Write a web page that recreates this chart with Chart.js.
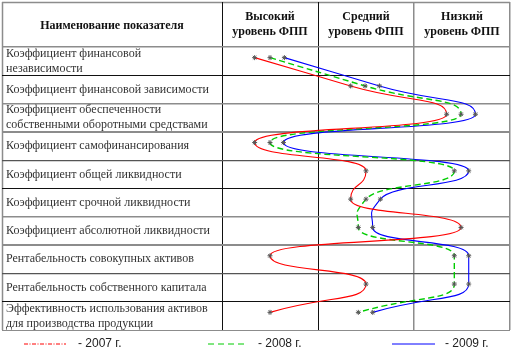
<!DOCTYPE html>
<html>
<head>
<meta charset="utf-8">
<script src="https://cdn.jsdelivr.net/npm/chart.js@4.4.1/dist/chart.umd.min.js"></script>
<style>
html,body{margin:0;padding:0;background:#fff;}
canvas{display:block;}
</style>
</head>
<body>
<canvas id="c" width="515" height="355"></canvas>
<script>
// Rows (indicators)
const rowLabels = [
  ['Коэффициент финансовой', 'независимости'],
  'Коэффициент финансовой зависимости',
  ['Коэффициент обеспеченности', 'собственными оборотными средствами'],
  'Коэффициент самофинансирования',
  'Коэффициент общей ликвидности',
  'Коэффициент срочной ликвидности',
  'Коэффициент абсолютной ликвидности',
  'Рентабельность совокупных активов',
  'Рентабельность собственного капитала',
  ['Эффективность использования активов', 'для производства продукции']
];
// Column headers (levels), each spans one unit on the x scale
const levelLabels = [
  ['Высокий', 'уровень ФПП'],
  ['Средний', 'уровень ФПП'],
  ['Низкий', 'уровень ФПП']
];
const cornerLabel = 'Наименование показателя';
// Position within the level columns (0..3)
const series2007 = [0.34, 1.34, 2.34, 0.34, 1.50, 1.34, 2.49, 0.50, 1.50, 0.50];
const series2008 = [0.50, 1.49, 2.49, 0.50, 2.42, 1.50, 1.42, 2.42, 2.42, 1.42];
const series2009 = [0.65, 1.64, 2.64, 0.64, 2.57, 1.65, 1.57, 2.57, 2.57, 1.57];
const legendLabels = ['- 2007 г.', '- 2008 г.', '- 2009 г.'];
const colTicks = [0, 0.5, 1, 1.5, 2, 2.5, 3];

const GREY = '#8c8c8c';
const hLineColors = [GREY, '#111', GREY, GREY, '#555', '#111', GREY, GREY, '#555', '#111', GREY];
const hLineWidths = [1.5, 1, 1.5, 2, 1.2, 1, 1.5, 2, 1.2, 1, 1.5];
const vLineColors = ['#111', '#111', GREY, GREY];
const vLineWidths = [1, 1, 1.5, 1.5];

// Monotone interpolation along the vertical (row) axis, with slightly longer handles
const HANDLE_SCALE = 1.8;
const DATA_SHIFT_Y = -3.5;

const curvePlugin = {
  id: 'curveShape',
  beforeDatasetsDraw(chart) {
    chart.ctx.save();
    chart.ctx.translate(0, DATA_SHIFT_Y);
  },
  afterDatasetsDraw(chart) {
    chart.ctx.restore();
  },
  beforeDatasetDraw(chart, args) {
    const line = args.meta.dataset;
    if (!line) return;
    line._pointsUpdated = false;
    line.updateControlPoints(chart.chartArea, 'y');
    line._path = undefined;
    line.points.forEach(p => {
      if (p.cp1x !== undefined) {
        p.cp1x = p.x + (p.cp1x - p.x) * HANDLE_SCALE;
        p.cp1y = p.y + (p.cp1y - p.y) * HANDLE_SCALE;
      }
      if (p.cp2x !== undefined) {
        p.cp2x = p.x + (p.cp2x - p.x) * HANDLE_SCALE;
        p.cp2y = p.y + (p.cp2y - p.y) * HANDLE_SCALE;
      }
    });
  }
};

const framePlugin = {
  id: 'frame',
  beforeDraw(chart) {
    const ctx = chart.ctx;
    const x = chart.scales.x, y = chart.scales.y;
    ctx.save();
    ctx.strokeStyle = GREY;
    ctx.lineWidth = 1.5;
    ctx.beginPath();
    ctx.moveTo(2, 2.5); ctx.lineTo(x.right, 2.5);
    ctx.moveTo(2.5, 2); ctx.lineTo(2.5, y.bottom);
    ctx.stroke();
    ctx.restore();
  },
  afterDraw(chart) {
    const ctx = chart.ctx;
    const x = chart.scales.x, y = chart.scales.y;
    ctx.save();
    ctx.fillStyle = '#111';
    ctx.font = 'bold 12px "Liberation Serif"';
    ctx.textAlign = 'center';
    ctx.textBaseline = 'middle';
    ctx.fillText(cornerLabel, (2 + x.left) / 2, (2 + y.top) / 2 + 1);
    // legend
    const ds = chart.data.datasets;
    const items = [
      {x0: 24, x1: 66, tx: 78, dash: [4, 1.5, 1, 1.5]},
      {x0: 208, x1: 248, tx: 258, dash: [6, 4]},
      {x0: 392, x1: 435, tx: 445, dash: []}
    ];
    const ly = y.bottom + 14;
    ctx.font = '12px "Liberation Sans"';
    ctx.textAlign = 'left';
    items.forEach((it, i) => {
      ctx.strokeStyle = ds[i].borderColor;
      ctx.lineWidth = 1;
      ctx.setLineDash(it.dash);
      ctx.beginPath();
      ctx.moveTo(it.x0, ly); ctx.lineTo(it.x1, ly);
      ctx.stroke();
      ctx.setLineDash([]);
      ctx.fillStyle = '#222';
      ctx.fillText(legendLabels[i], it.tx, ly);
    });
    ctx.restore();
  }
};

const pointOpts = {
  pointStyle: 'star',
  pointRadius: 2.5,
  pointBorderColor: '#555',
  pointBackgroundColor: '#555',
  pointBorderWidth: 1
};

new Chart(document.getElementById('c'), {
  type: 'line',
  data: {
    labels: rowLabels,
    datasets: [
      Object.assign({label: '2007', data: series2007, borderColor: '#ff0000', borderWidth: 1.1}, pointOpts),
      Object.assign({label: '2008', data: series2008, borderColor: '#00cc00', borderWidth: 1.4, borderDash: [6, 3.5]}, pointOpts),
      Object.assign({label: '2009', data: series2009, borderColor: '#0000ff', borderWidth: 1.1}, pointOpts)
    ]
  },
  options: {
    indexAxis: 'y',
    responsive: false,
    animation: false,
    layout: {padding: {left: 6, top: 2, right: 3, bottom: 25}},
    elements: {line: {cubicInterpolationMode: 'monotone', fill: false, capBezierPoints: false}},
    plugins: {legend: {display: false}, tooltip: {enabled: false}},
    scales: {
      x: {
        type: 'linear',
        position: 'top',
        min: 0, max: 3,
        afterBuildTicks: s => { s.ticks = colTicks.map(v => ({value: v})); },
        afterFit: s => { s.height = 45; },
        border: {display: false},
        grid: {
          tickLength: 45,
          color: c => Number.isInteger(c.tick.value) ? vLineColors[c.tick.value] : 'rgba(0,0,0,0)',
          lineWidth: c => Number.isInteger(c.tick.value) ? vLineWidths[c.tick.value] : 1
        },
        ticks: {
          autoSkip: false,
          maxRotation: 0,
          padding: -37,
          color: '#111',
          font: {family: '"Liberation Serif"', size: 12, weight: 'bold', lineHeight: 1.25},
          callback: v => Number.isInteger(v) ? '' : levelLabels[Math.floor(v)]
        }
      },
      y: {
        type: 'category',
        position: 'left',
        offset: true,
        afterFit: s => { s.width = 216; },
        border: {display: false},
        grid: {
          offset: true,
          tickLength: 220,
          color: c => hLineColors[c.index] || GREY,
          lineWidth: c => hLineWidths[c.index] || 1
        },
        ticks: {
          crossAlign: 'far',
          autoSkip: false,
          color: '#333',
          font: {family: '"Liberation Serif"', size: 12, lineHeight: 1.25}
        }
      }
    }
  },
  plugins: [curvePlugin, framePlugin]
});
</script>
</body>
</html>
